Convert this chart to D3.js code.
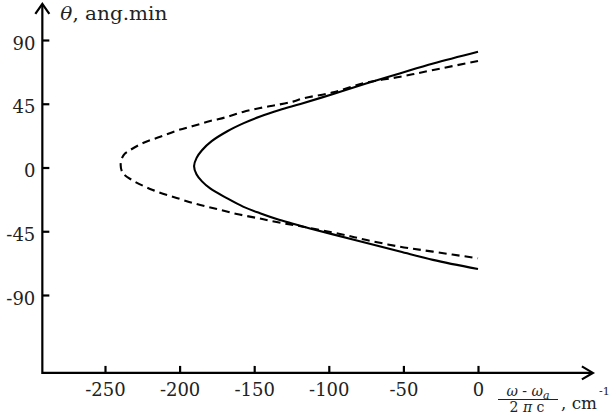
<!DOCTYPE html>
<html>
<head>
<meta charset="utf-8">
<script src="https://cdn.jsdelivr.net/npm/d3@7"></script>
<style>
  html, body { margin: 0; padding: 0; background: #fff; }
  svg { display: block; }
  text { font-family: "DejaVu Serif", "Liberation Serif", serif; fill: #222; }
</style>
</head>
<body>
<svg id="chart" width="611" height="419"></svg>
<script>
// ---- data ----
const xTicks = [-250, -200, -150, -100, -50, 0];
const yTicks = [90, 45, 0, -45, -90];

// solid curve, ordered from upper end, round the vertex, to lower end
const solidOmega = [0, -30, -52.5, -75, -97, -119, -133, -146, -157, -168, -178.5, -185, -188.6, -190.3,
                    -188.6, -185, -179.5, -168.4, -157.5, -146.1, -134.9, -124, -112.6, -97.2, -74.6, -52.3, -30.2, 0];
const solidTheta = [81.7, 73.4, 66.4, 59.3, 51.9, 44.9, 40.6, 36.0, 31.3, 25.6, 18.6, 12.2, 6.8, 1.0,
                    -5.0, -9.8, -14.8, -21.6, -27.6, -32.3, -36.4, -39.7, -43.0, -47.2, -53.3, -59.3, -65.2, -71.7];

// dashed curve
const dashedOmega = [0, -30, -52, -75, -97, -117, -124, -135, -146, -157.5, -168.5, -179.5, -191, -202, -213,
                     -224.5, -233, -237.5, -239.5, -238, -232, -218, -202, -188.5, -175, -161.7, -148.3, -135,
                     -117.3, -92.5, -74.6, -52.3, -30.2, 0];
const dashedTheta = [75.2, 68.8, 64.1, 59.9, 53.1, 48.8, 46.5, 44.1, 42.0, 39.2, 35.6, 32.8, 29.3, 26.0, 21.7,
                     17.3, 12.4, 8.8, 2.0, -4.0, -8.8, -15.9, -21.5, -25.8, -29.3, -32.8, -35.6, -38.5,
                     -41.8, -46.9, -51.2, -55.9, -59.4, -64.1];

// axis extents (data units)
const xAxisMin = -292, xAxisMax = 77;
const yAxisMin = -145, yAxisMax = 115.5;

// ---- drawing ----
const svg = d3.select("#chart");
const x = d3.scaleLinear().domain([-250, 0]).range([105, 478]);
const y = d3.scaleLinear().domain([90, -90]).range([40, 295]);

const ax0 = x(xAxisMin), ax1 = x(xAxisMax);
const ay0 = y(yAxisMin), ay1 = y(yAxisMax);

// axis lines
const axes = svg.append("g").attr("stroke", "#000").attr("stroke-width", 2.2).attr("fill", "none");
axes.append("line").attr("x1", ax0).attr("y1", ay0).attr("x2", ax1 - 1).attr("y2", ay0);
axes.append("line").attr("x1", ax0).attr("y1", ay0 + 1.1).attr("x2", ax0).attr("y2", ay1 + 1);
// arrowheads
axes.append("path").attr("d", `M${ax1 - 11},${ay0 - 6.5}L${ax1},${ay0}L${ax1 - 11},${ay0 + 6.5}`)
  .attr("stroke-linejoin", "miter");
axes.append("path").attr("d", `M${ax0 - 7},${ay1 + 10}L${ax0},${ay1}L${ax0 + 7},${ay1 + 10}`)
  .attr("stroke-linejoin", "miter");

const fmt = d => String(d);

// x axis ticks
const xAxis = d3.axisBottom(x).tickValues(xTicks).tickSize(-7).tickPadding(10).tickFormat(fmt);
const gx = svg.append("g").attr("transform", `translate(0,${ay0})`).call(xAxis);
gx.select(".domain").remove();
gx.selectAll(".tick line").attr("stroke", "#000").attr("stroke-width", 2.2);
gx.selectAll(".tick text").style("font-size", "18px").style("fill", "#222").attr("dy", "0.71em");

// y axis ticks
const yAxis = d3.axisLeft(y).tickValues(yTicks).tickSize(-7).tickPadding(7).tickFormat(fmt);
const gy = svg.append("g").attr("transform", `translate(${ax0},0)`).call(yAxis);
gy.select(".domain").remove();
gy.selectAll(".tick line").attr("stroke", "#000").attr("stroke-width", 2.2);
gy.selectAll(".tick text").style("font-size", "18px").style("fill", "#222").attr("dy", "0.5em");

// curves
const line = d3.line().x(d => x(d[0])).y(d => y(d[1])).curve(d3.curveCatmullRom.alpha(0.5));
const solid = solidOmega.map((w, i) => [w, solidTheta[i]]);
const dashed = dashedOmega.map((w, i) => [w, dashedTheta[i]]);

svg.append("path").datum(dashed).attr("d", line)
  .attr("fill", "none").attr("stroke", "#000").attr("stroke-width", 2.1)
  .attr("stroke-dasharray", "8,5");
svg.append("path").datum(solid).attr("d", line)
  .attr("fill", "none").attr("stroke", "#000").attr("stroke-width", 2.1);

// y axis title
const yt = svg.append("text").attr("x", ax0 + 18).attr("y", ay1 + 16).style("font-size", "19px")
  .attr("textLength", 107).attr("lengthAdjust", "spacingAndGlyphs");
yt.append("tspan").attr("font-style", "italic").text("θ");
yt.append("tspan").text(", ang.min");

// x axis title (fraction)
const fx = 528;
const num = svg.append("text").attr("x", fx).attr("y", 395.5).attr("text-anchor", "middle").style("font-size", "14px");
num.append("tspan").attr("font-style", "italic").text("ω");
num.append("tspan").text(" - ");
num.append("tspan").attr("font-style", "italic").text("ω");
num.append("tspan").attr("font-style", "italic").style("font-size", "11px").attr("dy", 3).text("a");
svg.append("line").attr("x1", 498).attr("x2", 558).attr("y1", 399.5).attr("y2", 399.5)
  .attr("stroke", "#222").attr("stroke-width", 1);
const den = svg.append("text").attr("x", fx - 1).attr("y", 412).attr("text-anchor", "middle").style("font-size", "14px");
den.append("tspan").text("2 ");
den.append("tspan").attr("font-style", "italic").text("π");
den.append("tspan").text(" c");
svg.append("text").attr("x", 561).attr("y", 408.5).style("font-size", "16px")
  .attr("textLength", 36).attr("lengthAdjust", "spacingAndGlyphs").text(", cm");
svg.append("text").attr("x", 599).attr("y", 395).style("font-size", "11px").text("-1");
</script>
</body>
</html>
